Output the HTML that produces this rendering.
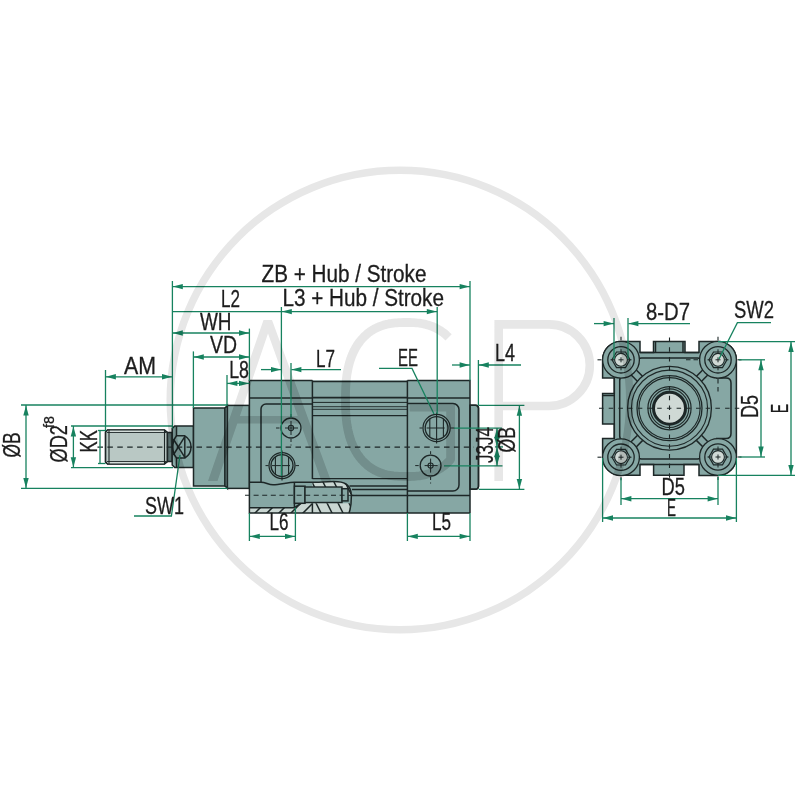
<!DOCTYPE html>
<html><head><meta charset="utf-8"><title>Cylinder dimensions</title>
<style>html,body{margin:0;padding:0;background:#fff}svg{display:block}text{font-family:"Liberation Sans",sans-serif}</style>
</head><body>
<svg width="800" height="800" viewBox="0 0 800 800">
<rect width="800" height="800" fill="#ffffff"/>
<g stroke-linejoin="miter">
<path d="M105.5,432 L107.5,430 H164.5 L167.5,432.5 V461.5 L164.5,464 H107.5 L105.5,462 Z" fill="#b9c8c4" stroke="#1d2727" stroke-width="1.5" />
<rect x="107.5" y="430" width="57" height="2.2" fill="#d3ddd9"/><rect x="107.5" y="461.6" width="57" height="2.4" fill="#d3ddd9"/>
<path d="M105.5,432 L107.5,430 H164.5 L167.5,432.5 V461.5 L164.5,464 H107.5 L105.5,462 Z" fill="none" stroke="#1d2727" stroke-width="1.2" />
<line x1="107" y1="432.5" x2="166" y2="432.5" stroke="#1d2727" stroke-width="0.9" />
<line x1="107" y1="461.5" x2="166" y2="461.5" stroke="#1d2727" stroke-width="0.9" />
<line x1="109" y1="430" x2="109" y2="464" stroke="#1d2727" stroke-width="1.1" />
<line x1="164.5" y1="430" x2="164.5" y2="464" stroke="#1d2727" stroke-width="1.1" />
<rect x="167.5" y="432.5" width="4.70" height="29.00" fill="#58706f" stroke="#1d2727" stroke-width="1.5" />
<path d="M172.2,428.5 L174.7,426 H193.5 V467.5 H174.7 L172.2,465 Z" fill="#86a7a4" stroke="#1d2727" stroke-width="1.5" />
<line x1="176.5" y1="426" x2="176.5" y2="435.8" stroke="#1d2727" stroke-width="1.5" />
<line x1="176.5" y1="458" x2="176.5" y2="467.5" stroke="#1d2727" stroke-width="1.5" />
<path d="M176.5,435.8 H184.8 A13,13 0 0 1 184.8,458 H176.5 A18.5,18.5 0 0 1 176.5,435.8 Z" fill="none" stroke="#1d2727" stroke-width="1.5" />
<line x1="173.3" y1="439" x2="184.8" y2="457.3" stroke="#1d2727" stroke-width="1.5" />
<line x1="184.8" y1="436.6" x2="173.3" y2="455" stroke="#1d2727" stroke-width="1.5" />
<line x1="184.8" y1="436" x2="184.8" y2="458" stroke="#1d2727" stroke-width="1.5" />
<rect x="193.5" y="408" width="31.50" height="78.00" fill="#86a7a4" stroke="#1d2727" stroke-width="1.5" />
<path d="M225,408 L227.4,405.4 V488.4 L225,486 Z" fill="#86a7a4" stroke="#1d2727" stroke-width="1.5" />
<rect x="227.4" y="405.4" width="22.00" height="83.00" fill="#86a7a4" stroke="#1d2727" stroke-width="1.5" />
<rect x="249.4" y="380.4" width="220.6" height="132.6" fill="#86a7a4"/>
<path d="M470,405.3 H475.5 A3,3 0 0 1 478.5,408.3 V486.3 A3,3 0 0 1 475.5,489.3 H470 Z" fill="#86a7a4" stroke="#1d2727" stroke-width="1.5" />
<path d="M249.4,507.7 H294.4 L301,503.3 H350.8 L349,513 H249.4 Z" fill="#c9d6d2" stroke="none" stroke-width="1.5" />
<path d="M312.4,482.2 C320,482.2 330,481.2 338,481.7 C346,482.2 351,486 351.3,495 H348 V488.7 H342 V487 H312.4 Z" fill="#c9d6d2" stroke="none" stroke-width="1.5" />
<clipPath id="hl"><path d="M249.4,507.7 H294.4 L301,503.3 H312.4 V513 H249.4 Z"/></clipPath>
<clipPath id="hr"><path d="M312.4,503.3 H350.8 L349,513 H312.4 Z M312.4,482.2 C320,482.2 330,481.2 338,481.7 C346,482.2 351,486 351.3,495 H348 V488.7 H342 V487 H312.4 Z"/></clipPath>
<g clip-path="url(#hl)">
<line x1="240" y1="516" x2="254" y2="502" stroke="#1d2727" stroke-width="1.5" />
<line x1="252" y1="516" x2="266" y2="502" stroke="#1d2727" stroke-width="1.5" />
<line x1="264" y1="516" x2="278" y2="502" stroke="#1d2727" stroke-width="1.5" />
<line x1="276" y1="516" x2="290" y2="502" stroke="#1d2727" stroke-width="1.5" />
<line x1="288" y1="516" x2="302" y2="502" stroke="#1d2727" stroke-width="1.5" />
<line x1="300" y1="516" x2="314" y2="502" stroke="#1d2727" stroke-width="1.5" />
<line x1="312" y1="516" x2="326" y2="502" stroke="#1d2727" stroke-width="1.5" />
<line x1="324" y1="516" x2="338" y2="502" stroke="#1d2727" stroke-width="1.5" />
</g><g clip-path="url(#hr)">
<line x1="300" y1="480" x2="307" y2="494" stroke="#1d2727" stroke-width="1.5" />
<line x1="303" y1="499" x2="311" y2="515" stroke="#1d2727" stroke-width="1.5" />
<line x1="311" y1="480" x2="318" y2="494" stroke="#1d2727" stroke-width="1.5" />
<line x1="314" y1="499" x2="322" y2="515" stroke="#1d2727" stroke-width="1.5" />
<line x1="322" y1="480" x2="329" y2="494" stroke="#1d2727" stroke-width="1.5" />
<line x1="325" y1="499" x2="333" y2="515" stroke="#1d2727" stroke-width="1.5" />
<line x1="333" y1="480" x2="340" y2="494" stroke="#1d2727" stroke-width="1.5" />
<line x1="336" y1="499" x2="344" y2="515" stroke="#1d2727" stroke-width="1.5" />
<line x1="344" y1="480" x2="351" y2="494" stroke="#1d2727" stroke-width="1.5" />
<line x1="347" y1="499" x2="355" y2="515" stroke="#1d2727" stroke-width="1.5" />
<line x1="355" y1="480" x2="362" y2="494" stroke="#1d2727" stroke-width="1.5" />
<line x1="358" y1="499" x2="366" y2="515" stroke="#1d2727" stroke-width="1.5" />
</g>
<path d="M312.4,380.4 H249.4 V513 H349" fill="none" stroke="#1d2727" stroke-width="1.5" />
<line x1="312.4" y1="380.4" x2="312.4" y2="479" stroke="#1d2727" stroke-width="1.5" />
<line x1="312.4" y1="503.3" x2="312.4" y2="513" stroke="#1d2727" stroke-width="1.5" />
<line x1="249.4" y1="398" x2="312.4" y2="398" stroke="#1d2727" stroke-width="1.3" />
<path d="M312.4,404 H266 A5,5 0 0 0 261,409 V482.2" fill="none" stroke="#1d2727" stroke-width="1.5" />
<path d="M249.4,482.2 H261 C266,482.2 268,484.8 273,484.8 C280,484.8 288,482.2 294.4,482.2 H311.5 C320,482.2 330,481.2 338,481.7 C346,482.2 351,486 351.3,495 C351.5,503 350.5,509 349,513" fill="none" stroke="#1d2727" stroke-width="1.5" />
<line x1="249.4" y1="507.7" x2="294.4" y2="507.7" stroke="#1d2727" stroke-width="1.5" />
<line x1="294.4" y1="482.2" x2="294.4" y2="507.7" stroke="#1d2727" stroke-width="1.5" />
<path d="M294.4,507.7 L301,503.3" fill="none" stroke="#1d2727" stroke-width="1.5" />
<rect x="294.4" y="486.2" width="10.60" height="17.10" fill="#86a7a4" stroke="#1d2727" stroke-width="1.5" />
<rect x="305" y="487" width="37.00" height="15.50" fill="#86a7a4" stroke="#1d2727" stroke-width="1.4" />
<rect x="342" y="488.7" width="6.00" height="12.20" fill="#86a7a4" stroke="#1d2727" stroke-width="1.5" />
<line x1="312.4" y1="381.6" x2="407.4" y2="381.6" stroke="#1d2727" stroke-width="1.5" />
<line x1="312.4" y1="397.6" x2="407.4" y2="397.6" stroke="#1d2727" stroke-width="1.6" />
<line x1="312.4" y1="402.4" x2="407.4" y2="402.4" stroke="#1d2727" stroke-width="1.0" />
<line x1="312.4" y1="406.7" x2="407.4" y2="406.7" stroke="#1d2727" stroke-width="0.9" />
<line x1="312.4" y1="409.3" x2="407.4" y2="409.3" stroke="#1d2727" stroke-width="0.9" />
<line x1="312.4" y1="415.6" x2="407.4" y2="415.6" stroke="#1d2727" stroke-width="1.3" />
<line x1="312.4" y1="478.6" x2="407.4" y2="478.6" stroke="#1d2727" stroke-width="1.4" />
<line x1="349.5" y1="486" x2="407.4" y2="486" stroke="#1d2727" stroke-width="1.5" />
<line x1="352" y1="489.4" x2="407.4" y2="489.4" stroke="#1d2727" stroke-width="1.5" />
<line x1="352" y1="495.5" x2="470" y2="495.5" stroke="#1d2727" stroke-width="1.5" />
<line x1="349" y1="513" x2="470" y2="513" stroke="#1d2727" stroke-width="1.5" />
<path d="M407.4,380.4 H470 V513" fill="none" stroke="#1d2727" stroke-width="1.5" />
<line x1="407.4" y1="380.4" x2="407.4" y2="513" stroke="#1d2727" stroke-width="1.5" />
<line x1="407.4" y1="398" x2="470" y2="398" stroke="#1d2727" stroke-width="1.3" />
<path d="M407.4,403.6 H453 A6,6 0 0 1 459,409.6 V485 A6,6 0 0 1 453,491 H407.4" fill="none" stroke="#1d2727" stroke-width="1.5" />
<path d="M470,405.3 H475.5 A3,3 0 0 1 478.5,408.3 V486.3 A3,3 0 0 1 475.5,489.3 H470" fill="none" stroke="#1d2727" stroke-width="1.5" />
<circle cx="291" cy="428" r="10" fill="none" stroke="#1d2727" stroke-width="1.3"/>
<circle cx="291" cy="428" r="2.6" fill="none" stroke="#1d2727" stroke-width="1.1"/>
<line x1="276" y1="428" x2="279.5" y2="428" stroke="#1d2727" stroke-width="1" />
<line x1="285" y1="428" x2="298" y2="428" stroke="#1d2727" stroke-width="1" />
<line x1="291" y1="414" x2="291" y2="417" stroke="#1d2727" stroke-width="1" />
<line x1="291" y1="421" x2="291" y2="435" stroke="#1d2727" stroke-width="1" />
<line x1="291" y1="439" x2="291" y2="442" stroke="#1d2727" stroke-width="1" />
<line x1="291" y1="444.5" x2="291" y2="445.5" stroke="#1d2727" stroke-width="1" />
<circle cx="282" cy="465.6" r="13" fill="none" stroke="#1d2727" stroke-width="1.2"/>
<circle cx="282" cy="465.6" r="11" fill="none" stroke="#1d2727" stroke-width="1.3"/>
<line x1="275.4" y1="456.8" x2="275.4" y2="474.40000000000003" stroke="#1d2727" stroke-width="1.1" />
<line x1="282" y1="450.6" x2="282" y2="480.6" stroke="#1d2727" stroke-width="1.1" />
<line x1="288.6" y1="456.8" x2="288.6" y2="474.40000000000003" stroke="#1d2727" stroke-width="1.1" />
<line x1="265.5" y1="465.6" x2="268.5" y2="465.6" stroke="#1d2727" stroke-width="1" />
<line x1="272" y1="465.6" x2="290" y2="465.6" stroke="#1d2727" stroke-width="1" />
<line x1="295.5" y1="465.6" x2="299" y2="465.6" stroke="#1d2727" stroke-width="1" />
<circle cx="436.6" cy="428" r="13.6" fill="none" stroke="#1d2727" stroke-width="1.2"/>
<circle cx="436.6" cy="428" r="11.4" fill="none" stroke="#1d2727" stroke-width="1.3"/>
<line x1="429.8" y1="418.8501366130417" x2="429.8" y2="437.1498633869583" stroke="#1d2727" stroke-width="1.1" />
<line x1="436.6" y1="412.6" x2="436.6" y2="443.4" stroke="#1d2727" stroke-width="1.1" />
<line x1="443.40000000000003" y1="418.8501366130417" x2="443.40000000000003" y2="437.1498633869583" stroke="#1d2727" stroke-width="1.1" />
<line x1="419.5" y1="428" x2="422.5" y2="428" stroke="#1d2727" stroke-width="1" />
<line x1="426.6" y1="428" x2="444.6" y2="428" stroke="#1d2727" stroke-width="1" />
<line x1="450.70000000000005" y1="428" x2="454.20000000000005" y2="428" stroke="#1d2727" stroke-width="1" />
<circle cx="430.6" cy="465.6" r="10.4" fill="none" stroke="#1d2727" stroke-width="1.3"/>
<circle cx="430.6" cy="465.6" r="2.6" fill="none" stroke="#1d2727" stroke-width="1.1"/>
<line x1="415.20000000000005" y1="465.6" x2="418.70000000000005" y2="465.6" stroke="#1d2727" stroke-width="1" />
<line x1="424.6" y1="465.6" x2="437.6" y2="465.6" stroke="#1d2727" stroke-width="1" />
<line x1="430.6" y1="451.20000000000005" x2="430.6" y2="454.20000000000005" stroke="#1d2727" stroke-width="1" />
<line x1="430.6" y1="458.6" x2="430.6" y2="472.6" stroke="#1d2727" stroke-width="1" />
<line x1="430.6" y1="477.0" x2="430.6" y2="480.0" stroke="#1d2727" stroke-width="1" />
<line x1="430.6" y1="482.5" x2="430.6" y2="483.5" stroke="#1d2727" stroke-width="1" />
<line x1="97.5" y1="447.2" x2="474" y2="447.2" stroke="#1d2727" stroke-width="1.2" stroke-dasharray="5.5 4.4"/>
<line x1="245" y1="495.3" x2="357" y2="495.3" stroke="#1d2727" stroke-width="1.1" stroke-dasharray="5 3.6"/>
</g>
<path d="M621,341.5 H640 V352.5 H653.5 V341.5 H685 V352.5 H699 V341.5 H718 A18.4,18.4 0 0 1 736.4,359.8 V457 A18.4,18.4 0 0 1 718,475.4 H699 V464.4 H684 V475.3 H653.6 V464.4 H640 V475.3 H621 A18.4,18.4 0 0 1 602.6,457.2 V438.5 H614.3 V424 H602.6 V393.5 H614.3 V378 H602.6 V359.8 A18.4,18.4 0 0 1 621,341.5 Z" fill="#86a7a4" stroke="#1d2727" stroke-width="1.5" />
<line x1="640" y1="352.5" x2="699" y2="352.5" stroke="#1d2727" stroke-width="1.5" />
<line x1="640" y1="464.4" x2="699" y2="464.4" stroke="#1d2727" stroke-width="1.5" />
<line x1="614.3" y1="378" x2="614.3" y2="438.5" stroke="#1d2727" stroke-width="1.5" />
<line x1="655.5" y1="341.5" x2="655.5" y2="352.5" stroke="#1d2727" stroke-width="1.5" />
<line x1="683" y1="341.5" x2="683" y2="352.5" stroke="#1d2727" stroke-width="1.5" />
<line x1="602.6" y1="395.5" x2="614.3" y2="395.5" stroke="#1d2727" stroke-width="1.5" />
<path d="M637.5,361 Q638,358 641.5,358 H697.5 Q701,358 701.5,361" fill="none" stroke="#1d2727" stroke-width="1.5" />
<path d="M637.5,456.2 Q638,459 641.5,459 H697.5 Q701,459 701.5,456.2" fill="none" stroke="#1d2727" stroke-width="1.5" />
<path d="M622.5,376.3 Q619.7,377 619.7,380.5 V436 Q619.7,439.5 622.5,440.3" fill="none" stroke="#1d2727" stroke-width="1.5" />
<path d="M716,378 H726 Q731,378 731,383 V433.5 Q731,438.5 726,438.5 H716" fill="none" stroke="#1d2727" stroke-width="1.5" />
<line x1="636.32" y1="370.0" x2="642.49" y2="376.16" stroke="#1d2727" stroke-width="1.5" />
<line x1="631.23" y1="375.09" x2="637.41" y2="381.26" stroke="#1d2727" stroke-width="1.5" />
<line x1="707.77" y1="375.09" x2="701.59" y2="381.26" stroke="#1d2727" stroke-width="1.5" />
<line x1="702.68" y1="370.0" x2="696.51" y2="376.16" stroke="#1d2727" stroke-width="1.5" />
<line x1="631.14" y1="441.84" x2="637.57" y2="435.34" stroke="#1d2727" stroke-width="1.5" />
<line x1="636.25" y1="446.91" x2="642.69" y2="440.4" stroke="#1d2727" stroke-width="1.5" />
<line x1="702.73" y1="446.74" x2="696.37" y2="440.35" stroke="#1d2727" stroke-width="1.5" />
<line x1="707.83" y1="441.66" x2="701.48" y2="435.27" stroke="#1d2727" stroke-width="1.5" />
<circle cx="669.5" cy="408.2" r="41.9" fill="none" stroke="#1d2727" stroke-width="1.3"/>
<circle cx="669.5" cy="408.2" r="38.1" fill="none" stroke="#1d2727" stroke-width="1.1"/>
<circle cx="669.5" cy="408.2" r="32.5" fill="none" stroke="#1d2727" stroke-width="1.3"/>
<circle cx="669.5" cy="408.2" r="30.6" fill="none" stroke="#1d2727" stroke-width="1.1"/>
<circle cx="669.5" cy="408.2" r="21.6" fill="none" stroke="#1d2727" stroke-width="1.2"/>
<circle cx="669.5" cy="408.2" r="19.3" fill="none" stroke="#1d2727" stroke-width="1.1"/>
<circle cx="669.5" cy="408.2" r="16" fill="#cfd9d5" stroke="#1d2727" stroke-width="3"/>
<circle cx="621" cy="359.8" r="18.4" fill="#86a7a4" stroke="#1d2727" stroke-width="1.3"/>
<circle cx="718" cy="359.8" r="18.4" fill="#86a7a4" stroke="#1d2727" stroke-width="1.3"/>
<circle cx="621" cy="457.2" r="18.4" fill="#86a7a4" stroke="#1d2727" stroke-width="1.3"/>
<circle cx="718" cy="457.0" r="18.4" fill="#86a7a4" stroke="#1d2727" stroke-width="1.3"/>
<circle cx="621" cy="359.8" r="13.2" fill="none" stroke="#1d2727" stroke-width="1.3"/>
<polygon points="630.00,359.80 625.50,367.59 616.50,367.59 612.00,359.80 616.50,352.01 625.50,352.01" fill="#86a7a4" stroke="#1d2727" stroke-width="1.2"/>
<circle cx="621" cy="359.8" r="6.4" fill="#cfd9d5" stroke="#1d2727" stroke-width="1.1"/>
<line x1="618.5" y1="359.8" x2="623.5" y2="359.8" stroke="#1d2727" stroke-width="1" />
<line x1="621" y1="357.3" x2="621" y2="362.3" stroke="#1d2727" stroke-width="1" />
<line x1="610.5" y1="359.8" x2="614" y2="359.8" stroke="#1d2727" stroke-width="1" />
<line x1="628" y1="359.8" x2="631.5" y2="359.8" stroke="#1d2727" stroke-width="1" />
<line x1="621" y1="349.3" x2="621" y2="352.8" stroke="#1d2727" stroke-width="1" />
<line x1="621" y1="366.8" x2="621" y2="370.3" stroke="#1d2727" stroke-width="1" />
<circle cx="718" cy="359.8" r="13.2" fill="none" stroke="#1d2727" stroke-width="1.3"/>
<polygon points="727.00,359.80 722.50,367.59 713.50,367.59 709.00,359.80 713.50,352.01 722.50,352.01" fill="#86a7a4" stroke="#1d2727" stroke-width="1.2"/>
<circle cx="718" cy="359.8" r="6.4" fill="#cfd9d5" stroke="#1d2727" stroke-width="1.1"/>
<line x1="715.5" y1="359.8" x2="720.5" y2="359.8" stroke="#1d2727" stroke-width="1" />
<line x1="718" y1="357.3" x2="718" y2="362.3" stroke="#1d2727" stroke-width="1" />
<line x1="707.5" y1="359.8" x2="711" y2="359.8" stroke="#1d2727" stroke-width="1" />
<line x1="725" y1="359.8" x2="728.5" y2="359.8" stroke="#1d2727" stroke-width="1" />
<line x1="718" y1="349.3" x2="718" y2="352.8" stroke="#1d2727" stroke-width="1" />
<line x1="718" y1="366.8" x2="718" y2="370.3" stroke="#1d2727" stroke-width="1" />
<circle cx="621" cy="457.2" r="13.2" fill="none" stroke="#1d2727" stroke-width="1.3"/>
<polygon points="630.00,457.20 625.50,464.99 616.50,464.99 612.00,457.20 616.50,449.41 625.50,449.41" fill="#86a7a4" stroke="#1d2727" stroke-width="1.2"/>
<circle cx="621" cy="457.2" r="6.4" fill="#cfd9d5" stroke="#1d2727" stroke-width="1.1"/>
<line x1="618.5" y1="457.2" x2="623.5" y2="457.2" stroke="#1d2727" stroke-width="1" />
<line x1="621" y1="454.7" x2="621" y2="459.7" stroke="#1d2727" stroke-width="1" />
<line x1="610.5" y1="457.2" x2="614" y2="457.2" stroke="#1d2727" stroke-width="1" />
<line x1="628" y1="457.2" x2="631.5" y2="457.2" stroke="#1d2727" stroke-width="1" />
<line x1="621" y1="446.7" x2="621" y2="450.2" stroke="#1d2727" stroke-width="1" />
<line x1="621" y1="464.2" x2="621" y2="467.7" stroke="#1d2727" stroke-width="1" />
<circle cx="718" cy="457.0" r="13.2" fill="none" stroke="#1d2727" stroke-width="1.3"/>
<polygon points="727.00,457.00 722.50,464.79 713.50,464.79 709.00,457.00 713.50,449.21 722.50,449.21" fill="#86a7a4" stroke="#1d2727" stroke-width="1.2"/>
<circle cx="718" cy="457.0" r="6.4" fill="#cfd9d5" stroke="#1d2727" stroke-width="1.1"/>
<line x1="715.5" y1="457.0" x2="720.5" y2="457.0" stroke="#1d2727" stroke-width="1" />
<line x1="718" y1="454.5" x2="718" y2="459.5" stroke="#1d2727" stroke-width="1" />
<line x1="707.5" y1="457.0" x2="711" y2="457.0" stroke="#1d2727" stroke-width="1" />
<line x1="725" y1="457.0" x2="728.5" y2="457.0" stroke="#1d2727" stroke-width="1" />
<line x1="718" y1="446.5" x2="718" y2="450.0" stroke="#1d2727" stroke-width="1" />
<line x1="718" y1="464.0" x2="718" y2="467.5" stroke="#1d2727" stroke-width="1" />
<line x1="599" y1="408.2" x2="741" y2="408.2" stroke="#1d2727" stroke-width="1.1" stroke-dasharray="4.5 5.2"/>
<line x1="669.5" y1="337.5" x2="669.5" y2="480" stroke="#1d2727" stroke-width="1.1" stroke-dasharray="4.5 5.2"/>
<line x1="601.5" y1="359.8" x2="597.5" y2="359.8" stroke="#1d2727" stroke-width="1.1" />
<line x1="621" y1="340.3" x2="621" y2="336.8" stroke="#1d2727" stroke-width="1.1" />
<line x1="737.5" y1="359.8" x2="741.5" y2="359.8" stroke="#1d2727" stroke-width="1.1" />
<line x1="718" y1="340.3" x2="718" y2="336.8" stroke="#1d2727" stroke-width="1.1" />
<line x1="601.5" y1="457.2" x2="597.5" y2="457.2" stroke="#1d2727" stroke-width="1.1" />
<line x1="621" y1="476.7" x2="621" y2="480.2" stroke="#1d2727" stroke-width="1.1" />
<line x1="737.5" y1="457.0" x2="741.5" y2="457.0" stroke="#1d2727" stroke-width="1.1" />
<line x1="718" y1="476.5" x2="718" y2="480.0" stroke="#1d2727" stroke-width="1.1" />
<line x1="686" y1="359.8" x2="698" y2="359.8" stroke="#1d2727" stroke-width="1.1" stroke-dasharray="4.5 3"/>
<line x1="718" y1="379" x2="718" y2="394" stroke="#1d2727" stroke-width="1.1" stroke-dasharray="4.5 3.5"/>
<g>
<line x1="172.4" y1="281" x2="172.4" y2="428.5" stroke="#17825f" stroke-width="1.3" />
<line x1="470" y1="281" x2="470" y2="380.4" stroke="#17825f" stroke-width="1.3" />
<line x1="281.4" y1="307" x2="281.4" y2="476" stroke="#17825f" stroke-width="1.3" />
<line x1="437.2" y1="307" x2="437.2" y2="414" stroke="#17825f" stroke-width="1.3" />
<line x1="249.4" y1="328.6" x2="249.4" y2="381" stroke="#17825f" stroke-width="1.3" />
<line x1="193.4" y1="351.4" x2="193.4" y2="408" stroke="#17825f" stroke-width="1.3" />
<line x1="227" y1="375" x2="227" y2="405.4" stroke="#17825f" stroke-width="1.3" />
<line x1="105.5" y1="370" x2="105.5" y2="431" stroke="#17825f" stroke-width="1.3" />
<line x1="291" y1="363" x2="291" y2="417.5" stroke="#17825f" stroke-width="1.3" />
<line x1="478.4" y1="360" x2="478.4" y2="405.3" stroke="#17825f" stroke-width="1.3" />
<line x1="249.4" y1="513" x2="249.4" y2="541" stroke="#17825f" stroke-width="1.3" />
<line x1="295.4" y1="507.7" x2="295.4" y2="541" stroke="#17825f" stroke-width="1.3" />
<line x1="407.4" y1="513" x2="407.4" y2="541" stroke="#17825f" stroke-width="1.3" />
<line x1="470" y1="513" x2="470" y2="541" stroke="#17825f" stroke-width="1.3" />
<line x1="21" y1="405" x2="227.4" y2="405" stroke="#17825f" stroke-width="1.3" />
<line x1="21" y1="488.4" x2="227.4" y2="488.4" stroke="#17825f" stroke-width="1.3" />
<line x1="71" y1="426" x2="172.4" y2="426" stroke="#17825f" stroke-width="1.3" />
<line x1="71" y1="467.7" x2="173" y2="467.7" stroke="#17825f" stroke-width="1.3" />
<line x1="98" y1="430.5" x2="105.5" y2="430.5" stroke="#17825f" stroke-width="1.3" />
<line x1="98" y1="463.5" x2="105.5" y2="463.5" stroke="#17825f" stroke-width="1.3" />
<line x1="100" y1="430.5" x2="100" y2="463.5" stroke="#17825f" stroke-width="1.3" />
<line x1="478.7" y1="405.3" x2="524.4" y2="405.3" stroke="#17825f" stroke-width="1.3" />
<line x1="478.7" y1="489.3" x2="524.4" y2="489.3" stroke="#17825f" stroke-width="1.3" />
<line x1="454" y1="428.1" x2="502" y2="428.1" stroke="#17825f" stroke-width="1.3" />
<line x1="444" y1="465.9" x2="502.5" y2="465.9" stroke="#17825f" stroke-width="1.3" />
<line x1="495" y1="446.9" x2="503" y2="446.9" stroke="#17825f" stroke-width="1.3" />
<line x1="614" y1="318" x2="614" y2="359" stroke="#17825f" stroke-width="1.3" />
<line x1="628" y1="318" x2="628" y2="359" stroke="#17825f" stroke-width="1.3" />
<line x1="621" y1="478" x2="621" y2="505" stroke="#17825f" stroke-width="1.3" />
<line x1="718" y1="477" x2="718" y2="505" stroke="#17825f" stroke-width="1.3" />
<line x1="602.6" y1="458" x2="602.6" y2="522" stroke="#17825f" stroke-width="1.3" />
<line x1="736.4" y1="458" x2="736.4" y2="522" stroke="#17825f" stroke-width="1.3" />
<line x1="739" y1="359.8" x2="765" y2="359.8" stroke="#17825f" stroke-width="1.3" />
<line x1="739.5" y1="457" x2="765" y2="457" stroke="#17825f" stroke-width="1.3" />
<line x1="718" y1="341.6" x2="795" y2="341.6" stroke="#17825f" stroke-width="1.3" />
<line x1="718" y1="475.3" x2="795" y2="475.3" stroke="#17825f" stroke-width="1.3" />
<line x1="172.4" y1="286.6" x2="470" y2="286.6" stroke="#17825f" stroke-width="1.3" />
<polygon points="172.80,286.60 182.80,283.90 182.80,289.30" fill="#17825f"/>
<polygon points="469.60,286.60 459.60,283.90 459.60,289.30" fill="#17825f"/>
<line x1="172.4" y1="311.6" x2="437.2" y2="311.6" stroke="#17825f" stroke-width="1.3" />
<polygon points="281.80,311.60 291.80,308.90 291.80,314.30" fill="#17825f"/>
<polygon points="436.80,311.60 426.80,308.90 426.80,314.30" fill="#17825f"/>
<line x1="172.4" y1="333" x2="249.4" y2="333" stroke="#17825f" stroke-width="1.3" />
<polygon points="172.80,333.00 182.80,330.30 182.80,335.70" fill="#17825f"/>
<polygon points="249.00,333.00 239.00,330.30 239.00,335.70" fill="#17825f"/>
<line x1="193.4" y1="357" x2="249.4" y2="357" stroke="#17825f" stroke-width="1.3" />
<polygon points="193.80,357.00 203.80,354.30 203.80,359.70" fill="#17825f"/>
<polygon points="249.00,357.00 239.00,354.30 239.00,359.70" fill="#17825f"/>
<line x1="227" y1="383.4" x2="249.4" y2="383.4" stroke="#17825f" stroke-width="1.3" />
<polygon points="227.40,383.40 237.40,380.70 237.40,386.10" fill="#17825f"/>
<polygon points="249.00,383.40 239.00,380.70 239.00,386.10" fill="#17825f"/>
<line x1="105.5" y1="376.8" x2="172.4" y2="376.8" stroke="#17825f" stroke-width="1.3" />
<polygon points="105.90,376.80 115.90,374.10 115.90,379.50" fill="#17825f"/>
<polygon points="172.00,376.80 162.00,374.10 162.00,379.50" fill="#17825f"/>
<line x1="261" y1="369.6" x2="281" y2="369.6" stroke="#17825f" stroke-width="1.3" />
<polygon points="281.00,369.60 271.00,366.90 271.00,372.30" fill="#17825f"/>
<polygon points="291.40,369.60 301.40,366.90 301.40,372.30" fill="#17825f"/>
<line x1="291.4" y1="369.6" x2="341" y2="369.6" stroke="#17825f" stroke-width="1.3" />
<line x1="452" y1="365" x2="470" y2="365" stroke="#17825f" stroke-width="1.3" />
<polygon points="469.60,365.00 459.60,362.30 459.60,367.70" fill="#17825f"/>
<polygon points="478.80,365.00 488.80,362.30 488.80,367.70" fill="#17825f"/>
<line x1="478.8" y1="365" x2="521" y2="365" stroke="#17825f" stroke-width="1.3" />
<line x1="249.4" y1="536.4" x2="295.4" y2="536.4" stroke="#17825f" stroke-width="1.3" />
<polygon points="249.80,536.40 259.80,533.70 259.80,539.10" fill="#17825f"/>
<polygon points="295.00,536.40 285.00,533.70 285.00,539.10" fill="#17825f"/>
<line x1="407.4" y1="536.4" x2="470" y2="536.4" stroke="#17825f" stroke-width="1.3" />
<polygon points="407.80,536.40 417.80,533.70 417.80,539.10" fill="#17825f"/>
<polygon points="469.60,536.40 459.60,533.70 459.60,539.10" fill="#17825f"/>
<line x1="594" y1="323.6" x2="614" y2="323.6" stroke="#17825f" stroke-width="1.3" />
<polygon points="613.60,323.60 603.60,320.90 603.60,326.30" fill="#17825f"/>
<polygon points="628.40,323.60 638.40,320.90 638.40,326.30" fill="#17825f"/>
<line x1="628.4" y1="323.6" x2="690" y2="323.6" stroke="#17825f" stroke-width="1.3" />
<line x1="621" y1="498.7" x2="718" y2="498.7" stroke="#17825f" stroke-width="1.3" />
<polygon points="621.40,498.70 631.40,496.00 631.40,501.40" fill="#17825f"/>
<polygon points="717.60,498.70 707.60,496.00 707.60,501.40" fill="#17825f"/>
<line x1="602.6" y1="518" x2="736.4" y2="518" stroke="#17825f" stroke-width="1.3" />
<polygon points="603.00,518.00 613.00,515.30 613.00,520.70" fill="#17825f"/>
<polygon points="736.00,518.00 726.00,515.30 726.00,520.70" fill="#17825f"/>
<line x1="26" y1="405" x2="26" y2="488.4" stroke="#17825f" stroke-width="1.3" />
<polygon points="26.00,405.40 23.30,415.40 28.70,415.40" fill="#17825f"/>
<polygon points="26.00,488.00 23.30,478.00 28.70,478.00" fill="#17825f"/>
<line x1="73.4" y1="426" x2="73.4" y2="467.7" stroke="#17825f" stroke-width="1.3" />
<polygon points="73.40,426.40 70.70,436.40 76.10,436.40" fill="#17825f"/>
<polygon points="73.40,467.30 70.70,457.30 76.10,457.30" fill="#17825f"/>
<line x1="519.4" y1="405.3" x2="519.4" y2="489.3" stroke="#17825f" stroke-width="1.3" />
<polygon points="519.40,405.70 516.70,415.70 522.10,415.70" fill="#17825f"/>
<polygon points="519.40,488.90 516.70,478.90 522.10,478.90" fill="#17825f"/>
<line x1="761" y1="359.8" x2="761" y2="457" stroke="#17825f" stroke-width="1.3" />
<polygon points="761.00,360.20 758.30,370.20 763.70,370.20" fill="#17825f"/>
<polygon points="761.00,456.60 758.30,446.60 763.70,446.60" fill="#17825f"/>
<line x1="791" y1="341.6" x2="791" y2="475.3" stroke="#17825f" stroke-width="1.3" />
<polygon points="791.00,342.00 788.30,352.00 793.70,352.00" fill="#17825f"/>
<polygon points="791.00,474.90 788.30,464.90 793.70,464.90" fill="#17825f"/>
<line x1="497" y1="428.1" x2="497" y2="465.9" stroke="#17825f" stroke-width="1.3" />
<polygon points="497.00,428.30 494.30,438.30 499.70,438.30" fill="#17825f"/>
<polygon points="497.00,446.90 494.30,436.90 499.70,436.90" fill="#17825f"/>
<polygon points="497.00,446.90 494.30,456.90 499.70,456.90" fill="#17825f"/>
<polygon points="497.00,465.70 494.30,455.70 499.70,455.70" fill="#17825f"/>
<polyline points="180,455 171.4,516 134,516" fill="none" stroke="#17825f" stroke-width="1.3"/>
<polyline points="379,368.4 412,368.4 434,414" fill="none" stroke="#17825f" stroke-width="1.3"/>
<polyline points="771,322.6 737.4,322.6 719,359" fill="none" stroke="#17825f" stroke-width="1.3"/>
</g>
<g font-family="'Liberation Sans', sans-serif" fill="#1b1b1b" stroke="#1b1b1b" stroke-width="0.3" opacity="0.99">
<text transform="translate(261.50,282) scale(0.8919,1)" font-size="23.2">ZB + Hub / Stroke</text>
<text transform="translate(221.00,307) scale(0.7364,1)" font-size="23.2">L2</text>
<text transform="translate(282.40,306) scale(0.8918,1)" font-size="23.2">L3 + Hub / Stroke</text>
<text transform="translate(200.00,330) scale(0.8165,1)" font-size="23.2">WH</text>
<text transform="translate(210.00,353) scale(0.8385,1)" font-size="23.2">VD</text>
<text transform="translate(229.20,378.3) scale(0.7674,1)" font-size="23.2">L8</text>
<text transform="translate(124.00,374) scale(0.9195,1)" font-size="23.2">AM</text>
<text transform="translate(316.00,367) scale(0.7364,1)" font-size="23.2">L7</text>
<text transform="translate(398.00,366) scale(0.6452,1)" font-size="23.2">EE</text>
<text transform="translate(495.00,361) scale(0.7752,1)" font-size="23.2">L4</text>
<text transform="translate(269.50,530) scale(0.7364,1)" font-size="23.2">L6</text>
<text transform="translate(432.00,530) scale(0.7364,1)" font-size="23.2">L5</text>
<text transform="translate(145.00,514) scale(0.7753,1)" font-size="23.2">SW1</text>
<text transform="translate(646.00,320) scale(0.8748,1)" font-size="23.2">8-D7</text>
<text transform="translate(734.00,318) scale(0.7952,1)" font-size="23.2">SW2</text>
<text transform="translate(661.60,495) scale(0.7879,1)" font-size="23.2">D5</text>
<text transform="translate(667.00,516) scale(0.5806,1)" font-size="23.2">E</text>
<text transform="translate(20.4,457.60) rotate(-90) scale(0.7522,1)" font-size="23.2">ØB</text>
<text transform="translate(66.5,462.40) rotate(-90) scale(0.7841,1)" font-size="23.2">ØD2</text>
<text transform="translate(54,428.00) rotate(-90) scale(1.0256,1)" font-size="14">f8</text>
<text transform="translate(96.5,452.50) rotate(-90) scale(0.7258,1)" font-size="23.2">KK</text>
<text transform="translate(515,452.50) rotate(-90) scale(0.7612,1)" font-size="23.2">ØB</text>
<text transform="translate(492.5,463.00) rotate(-90) scale(0.7347,1)" font-size="23.2">J3J4</text>
<text transform="translate(757.5,418.00) rotate(-90) scale(0.7744,1)" font-size="23.2">D5</text>
<text transform="translate(787.5,413.00) rotate(-90) scale(0.5806,1)" font-size="23.2">E</text>
</g>
<defs><g id="wm">
<g fill="#000" stroke="none">
<path fill-rule="evenodd" d="M400,166.5 A233.5,233.5 0 1 0 400,633.5 A233.5,233.5 0 1 0 400,166.5 Z M400,174 A226,226 0 1 1 400,626 A226,226 0 1 1 400,174 Z"/>
<path fill-rule="evenodd" d="M208,481 L263.5,320 H272 L331,481 H321.5 L300.5,423.6 H237.3 L217.5,481 Z M268,333.5 L297.7,416 H239.9 Z"/>
<rect x="409.6" y="404.5" width="45.4" height="7"/>
</g>
<g fill="none" stroke="#000" stroke-width="9">
<path d="M448.6,337.4 L447.6,336.4 L446.5,335.4 L445.5,334.4 L444.4,333.5 L443.3,332.6 L442.1,331.8 L440.9,331.0 L439.7,330.2 L438.5,329.5 L437.2,328.8 L435.9,328.1 L434.6,327.5 L433.3,326.9 L431.9,326.3 L430.5,325.8 L429.0,325.3 L427.6,324.9 L426.0,324.5 L424.5,324.1 L422.9,323.8 L421.3,323.5 L419.6,323.2 L417.8,323.0 L416.0,322.8 L414.0,322.7 L412.0,322.6 L409.7,322.5 L407.0,322.5 L403.5,322.5 L401.0,322.6 L398.9,322.6 L396.9,322.8 L395.1,322.9 L393.3,323.1 L391.5,323.4 L389.9,323.6 L388.3,324.0 L386.7,324.3 L385.1,324.7 L383.7,325.1 L382.2,325.6 L380.8,326.1 L379.4,326.6 L378.0,327.2 L376.7,327.8 L375.4,328.5 L374.1,329.1 L372.9,329.9 L371.6,330.6 L370.4,331.4 L369.3,332.2 L368.1,333.1 L367.0,334.0 L366.0,334.9 L364.9,335.9 L363.9,336.9 L362.9,338.0 L361.9,339.0 L360.9,340.2 L360.0,341.3 L359.1,342.5 L358.3,343.7 L357.4,344.9 L356.6,346.2 L355.8,347.5 L355.1,348.9 L354.4,350.3 L353.6,351.7 L353.0,353.2 L352.3,354.7 L351.7,356.2 L351.1,357.7 L350.6,359.3 L350.0,361.0 L349.5,362.6 L349.1,364.3 L348.6,366.1 L348.2,367.9 L347.8,369.7 L347.5,371.6 L347.1,373.5 L346.8,375.4 L346.6,377.4 L346.3,379.5 L346.1,381.7 L346.0,383.9 L345.8,386.2 L345.7,388.6 L345.6,391.2 L345.5,394.0 L345.5,397.2 L345.5,401.8 L345.5,405.0 L345.6,407.8 L345.7,410.4 L345.8,412.8 L346.0,415.1 L346.1,417.3 L346.3,419.5 L346.6,421.6 L346.8,423.6 L347.1,425.5 L347.5,427.4 L347.8,429.3 L348.2,431.1 L348.6,432.9 L349.1,434.7 L349.5,436.4 L350.0,438.0 L350.6,439.7 L351.1,441.3 L351.7,442.8 L352.3,444.3 L353.0,445.8 L353.6,447.3 L354.4,448.7 L355.1,450.1 L355.8,451.5 L356.6,452.8 L357.4,454.1 L358.3,455.3 L359.1,456.5 L360.0,457.7 L360.9,458.8 L361.9,460.0 L362.9,461.0 L363.9,462.1 L364.9,463.1 L366.0,464.1 L367.0,465.0 L368.1,465.9 L369.3,466.8 L370.4,467.6 L371.6,468.4 L372.9,469.1 L374.1,469.9 L375.4,470.5 L376.7,471.2 L378.0,471.8 L379.4,472.4 L380.8,472.9 L382.2,473.4 L383.7,473.9 L385.1,474.3 L386.7,474.7 L388.3,475.0 L389.9,475.4 L391.5,475.6 L393.3,475.9 L395.1,476.1 L396.9,476.2 L398.9,476.4 L401.0,476.4 L403.5,476.5 L407.0,476.5 L409.7,476.5 L412.0,476.4 L414.0,476.3 L416.0,476.2 L417.8,476.0 L419.6,475.8 L421.3,475.5 L422.9,475.2 L424.5,474.9 L426.0,474.5 L427.6,474.1 L429.0,473.7 L430.5,473.2 L431.9,472.7 L433.3,472.1 L434.6,471.5 L435.9,470.9 L437.2,470.2 L438.5,469.5 L439.7,468.8 L440.9,468.0 L442.1,467.2 L443.3,466.4 L444.4,465.5 L445.5,464.6 L446.5,463.6 L447.6,462.6 L448.6,461.6 L449.6,460.5 L450.6,459.4 L450.6,459.4 V411" stroke-width="8.8" stroke-linejoin="round"/>
<path d="M498.7,481 V324.4 H549 A40.8,40.8 0 0 1 549,406 H503" stroke-width="8.6" stroke-linejoin="miter"/>
</g></g></defs>
<use href="#wm" opacity="0.095"/>
<clipPath id="bodyclip"><path d="M105.5,430 H167.5 V426 H193.5 V408 H227.4 V405.4 H249.4 V380.4 H470 V405.3 H478.5 V489.3 H470 V513 H249.4 V488.4 H227.4 V486 H193.5 V467.5 H167.5 V464 H105.5 Z"/><rect x="602.6" y="341.5" width="133.8" height="133.8"/></clipPath>
<g clip-path="url(#bodyclip)"><use href="#wm" opacity="0.06"/></g>
</svg>
</body></html>
